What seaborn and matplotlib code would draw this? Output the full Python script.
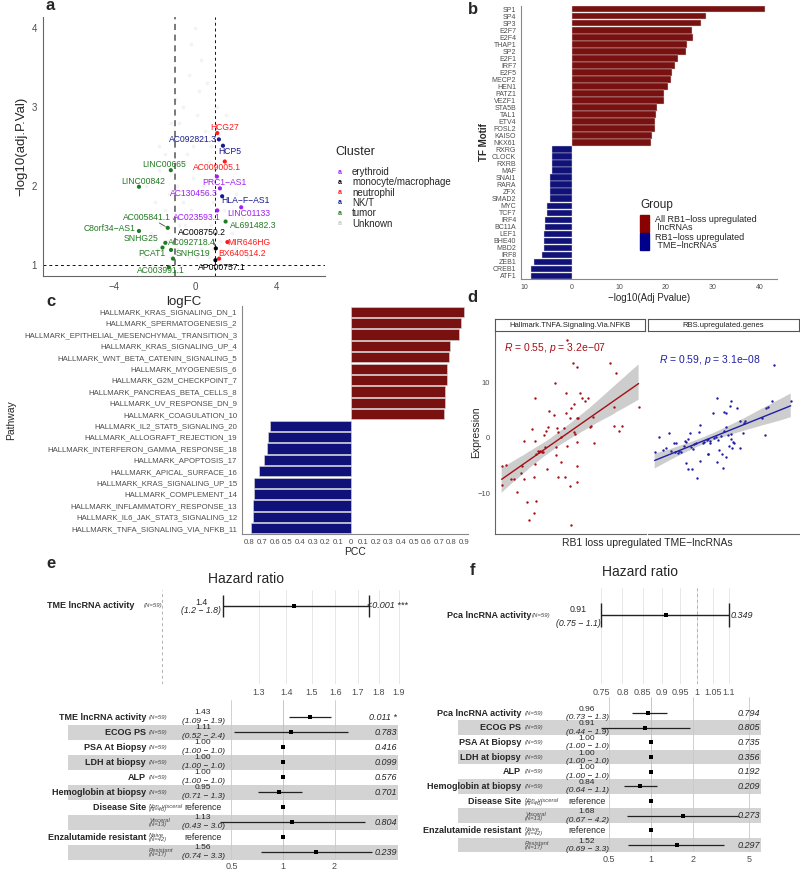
import numpy as np
import pandas as pd
import matplotlib
matplotlib.use("Agg")
import matplotlib.pyplot as plt
import matplotlib.transforms as mtrans
from matplotlib.patches import Rectangle
from matplotlib.ticker import NullLocator
import seaborn as sns

sns.set_theme(style="white")
plt.rcParams["font.family"] = ["Liberation Sans", "DejaVu Sans"]
plt.rcParams["axes.unicode_minus"] = True
plt.rcParams["mathtext.fontset"] = "custom"
plt.rcParams["mathtext.it"] = "Liberation Sans:italic"
plt.rcParams["mathtext.rm"] = "Liberation Sans"

#%% data

# a: volcano, labelled lncRNAs
genes = ["HCG27", "AC092821.3", "HCP5", "AC009005.1", "LINC00665", "PRC1\u2212AS1",
         "LINC00842", "AC130456.3", "HLA\u2212F\u2212AS1", "LINC01133", "AC023593.1",
         "AL691482.3", "AC005841.1", "C8orf34\u2212AS1", "SNHG25", "AC092718.4", "PCAT1",
         "SNHG19", "AC008750.2", "MIR646HG", "BX640514.2", "AP000757.1", "AC003991.1"]
gene_fc = [1.09, 1.17, 1.37, 1.46, -1.20, 1.07, -2.77, 1.22, 1.33, 2.27, 1.09, 1.50,
           -1.35, -2.77, -1.47, -1.19, -1.61, -1.09, 1.02, 1.59, 1.18, 1.00, -1.30]
gene_p = [2.67, 2.59, 2.51, 2.31, 2.20, 2.12, 1.99, 1.97, 1.87, 1.73, 1.69, 1.55,
          1.47, 1.43, 1.28, 1.19, 1.22, 1.08, 1.21, 1.29, 1.08, 1.06, 0.97]
gene_cluster = ["neutrophil", "NK/T", "NK/T", "neutrophil", "tumor", "erythroid",
                "tumor", "erythroid", "NK/T", "erythroid", "erythroid", "tumor",
                "tumor", "tumor", "tumor", "tumor", "tumor", "tumor",
                "monocyte/macrophage", "neutrophil", "neutrophil", "monocyte/macrophage", "tumor"]
# ggrepel label placement (data units)
label_x = [1.45, -0.13, 1.71, 1.09, -1.55, 1.42, -2.57, -0.07, 2.50, 2.62, 0.08, 2.86,
           -2.39, -4.20, -2.68, -0.18, -2.12, -0.13, 0.33, 2.67, 2.32, 1.30, -1.70]
label_y = [2.74, 2.59, 2.44, 2.24, 2.27, 2.04, 2.06, 1.91, 1.81, 1.65, 1.60, 1.50,
           1.60, 1.46, 1.33, 1.28, 1.14, 1.14, 1.41, 1.28, 1.15, 0.97, 0.93]

# a: unlabelled background lncRNAs (Unknown)
bg_points = [(-3.1, 1.3), (-2.8, 1.6), (-2.5, 1.1), (-2.4, 2.0), (-2.2, 1.4), (-2.1, 1.0),
             (-2.0, 1.8), (-1.9, 1.2), (-1.8, 2.2), (-1.7, 1.5), (-1.6, 1.0), (-1.5, 1.7),
             (-1.5, 2.4), (-1.4, 1.3), (-1.3, 1.9), (-1.2, 1.1), (-1.1, 1.6), (-1.0, 2.6),
             (-0.9, 1.2), (-0.9, 2.0), (-0.8, 1.5), (-0.7, 1.0), (-0.6, 1.8), (-0.5, 2.3),
             (-0.4, 1.4), (-0.3, 1.1), (-0.2, 1.7), (-0.1, 2.1), (0.0, 1.3), (0.1, 2.9),
             (0.2, 1.6), (0.3, 1.2), (0.4, 2.0), (0.5, 1.4), (0.6, 1.9), (0.7, 1.1),
             (0.8, 1.5), (0.9, 1.8), (1.0, 2.2), (1.2, 1.3), (1.4, 1.7), (1.6, 1.0),
             (1.8, 1.4), (2.0, 1.2), (2.3, 1.6), (2.6, 1.1), (3.0, 1.3), (-0.6, 3.0),
             (-0.3, 3.4), (0.2, 3.2), (0.5, 2.7), (-1.0, 3.1), (0.8, 2.5), (-0.2, 3.8),
             (0.3, 3.6), (-0.8, 2.8), (0.0, 4.0), (0.6, 3.3), (-1.8, 2.5), (-1.2, 2.8),
             (1.1, 3.0), (1.5, 2.9), (-0.4, 2.4), (0.4, 2.6), (-2.2, 2.1), (2.0, 1.9),
             (-0.5, 1.5), (0.1, 1.1), (-1.3, 1.0), (0.9, 1.2), (-0.1, 2.5), (0.7, 2.3)]

cluster_names = ["erythroid", "monocyte/macrophage", "neutrophil", "NK/T", "tumor", "Unknown"]
cluster_colors = ["#A020F0", "#000000", "#FF1A1A", "#1A1A8C", "#227A22", "#C8C8C8"]

# b: TF motif enrichment
tf_up = ["SP1", "SP4", "SP3", "E2F7", "E2F4", "THAP1", "SP2", "E2F1", "IRF7", "E2F5",
         "MECP2", "HEN1", "PATZ1", "VEZF1", "STA5B", "TAL1", "ETV4", "FOSL2", "KAISO", "NKX61"]
tf_up_val = [41.0, 28.6, 27.4, 25.6, 25.7, 24.4, 24.2, 22.5, 22.0, 21.3,
             21.1, 20.4, 19.6, 19.6, 18.1, 17.9, 17.7, 17.6, 17.1, 16.9]
tf_down = ["RXRG", "CLOCK", "RXRB", "MAF", "SNAI1", "RARA", "ZFX", "SMAD2", "MYC", "TCF7",
           "IRF4", "BC11A", "LEF1", "BHE40", "MBD2", "IRF8", "ZEB1", "CREB1", "ATF1"]
tf_down_val = [4.2, 4.3, 4.3, 4.3, 4.6, 4.6, 4.7, 4.7, 5.2, 5.3,
               5.7, 5.8, 6.0, 6.0, 6.0, 6.4, 8.0, 8.7, 8.7]
group_labels = ["All RB1\u2212loss upregulated\n lncRNAs", "RB1\u2212loss upregulated\n TME\u2212lncRNAs"]

# c: hallmark pathways
path_up = ["HALLMARK_KRAS_SIGNALING_DN_1", "HALLMARK_SPERMATOGENESIS_2",
           "HALLMARK_EPITHELIAL_MESENCHYMAL_TRANSITION_3", "HALLMARK_KRAS_SIGNALING_UP_4",
           "HALLMARK_WNT_BETA_CATENIN_SIGNALING_5", "HALLMARK_MYOGENESIS_6",
           "HALLMARK_G2M_CHECKPOINT_7", "HALLMARK_PANCREAS_BETA_CELLS_8",
           "HALLMARK_UV_RESPONSE_DN_9", "HALLMARK_COAGULATION_10"]
path_up_pcc = [0.895, 0.871, 0.860, 0.786, 0.781, 0.762, 0.760, 0.746, 0.746, 0.738]
path_down = ["HALLMARK_IL2_STAT5_SIGNALING_20", "HALLMARK_ALLOGRAFT_REJECTION_19",
             "HALLMARK_INTERFERON_GAMMA_RESPONSE_18", "HALLMARK_APOPTOSIS_17",
             "HALLMARK_APICAL_SURFACE_16", "HALLMARK_KRAS_SIGNALING_UP_15",
             "HALLMARK_COMPLEMENT_14", "HALLMARK_INFLAMMATORY_RESPONSE_13",
             "HALLMARK_IL6_JAK_STAT3_SIGNALING_12", "HALLMARK_TNFA_SIGNALING_VIA_NFKB_11"]
path_down_pcc = [0.635, 0.651, 0.662, 0.688, 0.728, 0.765, 0.768, 0.776, 0.776, 0.786]

# d: correlation scatter (x = RB1 loss TME-lncRNA score, y = expression)
tnfa_pts = [(0.46, -5.1), (0.71, -4.9), (1.04, -7.4), (1.24, -7.4), (1.44, -9.7), (0.44, -8.4),
            (1.73, -6.3), (1.81, -5.0), (1.90, -0.5), (1.95, -7.4), (2.12, -11.6), (2.26, -14.7),
            (2.46, 1.6), (2.57, -13.5), (2.57, -7.1), (2.63, -0.5), (2.68, 7.1), (2.68, -4.7),
            (2.70, -2.9), (2.72, -11.3), (2.85, -2.3), (2.90, -2.6), (2.99, -2.3), (3.08, -2.5),
            (3.19, -2.5), (3.23, 0.5), (3.30, -1.7), (3.41, 1.3), (3.45, -5.6), (3.54, 2.0),
            (3.56, 4.9), (3.89, 4.1), (4.00, 9.9), (4.05, -3.1), (4.07, -1.7), (4.09, 1.7),
            (4.14, -7.1), (4.18, 1.1), (4.34, -4.3), (4.40, 0.2), (4.60, 1.8), (4.62, -7.0),
            (4.69, 8.1), (4.71, 4.4), (4.76, 17.6), (4.80, -1.4), (4.96, 3.6), (4.98, -8.7),
            (5.00, -15.7), (5.04, 5.4), (5.18, 13.5), (5.22, 6.0), (5.24, 1.1), (5.33, 0.7),
            (5.44, 12.8), (5.44, -0.8), (5.46, 3.6), (5.46, -5.0), (5.46, -8.0), (5.51, 3.6),
            (5.66, 8.1), (5.77, 7.2), (5.95, 6.6), (6.13, 7.1), (6.28, 2.0), (6.33, 2.2),
            (6.48, 3.7), (6.57, -1.0), (7.61, 13.4), (7.88, 5.6), (7.88, 2.2), (7.99, 11.7),
            (8.21, 1.2), (8.43, 2.2), (9.51, 5.5)]
rbs_pts = [(0.44, -2.5), (0.72, 0.1), (0.96, -2.2), (1.18, -1.8), (1.40, 0.8), (1.49, -2.4),
           (1.68, -1.0), (1.79, -2.5), (1.86, -1.0), (1.95, -2.8), (2.06, -2.3), (2.14, -2.5),
           (2.34, -1.4), (2.45, -0.5), (2.47, -4.5), (2.52, -0.7), (2.60, -5.6), (2.65, -0.3),
           (2.76, 0.8), (2.80, -1.7), (2.89, -5.6), (2.98, -2.0), (3.04, -1.2), (3.13, -0.9),
           (3.24, -7.2), (3.33, 1.1), (3.39, -4.2), (3.44, 2.3), (3.61, -1.0), (3.70, -0.7),
           (3.85, -0.4), (3.94, -2.9), (3.96, -3.0), (3.98, -0.3), (4.05, -0.5), (4.09, -1.0),
           (4.25, 4.4), (4.31, -0.1), (4.49, 0.1), (4.53, -4.3), (4.57, 7.1), (4.62, -0.4),
           (4.70, -2.2), (4.79, 0.4), (4.86, -3.0), (4.92, -5.5), (4.97, 1.3), (5.01, 4.6),
           (5.10, -3.4), (5.12, 4.5), (5.16, 2.0), (5.27, 0.5), (5.34, -1.4), (5.38, 5.8),
           (5.43, 6.6), (5.43, -0.2), (5.45, 0.7), (5.51, -1.9), (5.58, -0.7), (5.69, -1.0),
           (5.86, 5.4), (6.06, -1.9), (6.08, 3.1), (6.24, 0.9), (6.32, 2.6), (6.41, 3.1),
           (7.51, 3.6), (7.72, 0.5), (7.79, 5.4), (7.88, 5.5), (8.14, 6.6), (8.29, 13.1),
           (9.39, 6.6)]
facet_names = ["Hallmark.TNFA.Signaling.Via.NFKB", "RBS.upregulated.genes"]
facet_stats = ["$R$ = 0.55, $p$ = 3.2e\u221207", "$R$ = 0.59, $p$ = 3.1e\u221208"]

# e/f: cox models
cox_vars = ["", "ECOG PS", "PSA At Biopsy", "LDH at biopsy", "ALP", "Hemoglobin at biopsy",
            "Disease Site", "", "Enzalutamide resistant", ""]
cox_levels = ["(N=59)", "(N=59)", "(N=59)", "(N=59)", "(N=59)", "(N=59)",
              "Non_visceral\n(N=46)", "Visceral\n(N=13)", "Naive\n(N=42)", "Resistant\n(N=17)"]
e_hr = [1.43, 1.11, 1.00, 1.00, 1.00, 0.95, 1.00, 1.13, 1.00, 1.56]
e_lo = [1.09, 0.52, 1.00, 1.00, 1.00, 0.71, np.nan, 0.43, np.nan, 0.74]
e_hi = [1.9, 2.4, 1.0, 1.0, 1.0, 1.3, np.nan, 3.0, np.nan, 3.3]
e_p = ["0.011 *", "0.783", "0.416", "0.099", "0.576", "0.701", "", "0.804", "", "0.239"]
f_hr = [0.96, 0.91, 1.00, 1.00, 1.00, 0.84, 1.00, 1.68, 1.00, 1.52]
f_lo = [0.73, 0.44, 1.00, 1.00, 1.00, 0.64, np.nan, 0.67, np.nan, 0.69]
f_hi = [1.3, 1.9, 1.0, 1.0, 1.0, 1.1, np.nan, 4.2, np.nan, 3.3]
f_p = ["0.794", "0.805", "0.735", "0.356", "0.192", "0.209", "", "0.273", "", "0.297"]

# single-variable models
e1_hr, e1_lo, e1_hi, e1_txt, e1_p = 1.43, 1.18, 1.75, ("1.4", "(1.2 \u2212 1.8)"), "<0.001 ***"
f1_hr, f1_lo, f1_hi, f1_txt, f1_p = 0.91, 0.75, 1.10, ("0.91", "(0.75 \u2212 1.1)"), "0.349"

RED = "#8B0000"
BLUE = "#00008B"
GREY_TXT = "#4d4d4d"

#%% figure helpers
W, H = 800, 871
fig = plt.figure(figsize=(8, 8.71), dpi=100)


def px_axes(l, t, r, b):
    return fig.add_axes([l / W, 1 - b / H, (r - l) / W, (b - t) / H])


def ftext(x, y, s, **kw):
    fig.text(x / W, 1 - y / H, s, **kw)


def style_spines(ax, sides=("left", "bottom"), color="#666666"):
    for k, sp in ax.spines.items():
        sp.set_visible(k in sides)
        sp.set_color(color)
        sp.set_linewidth(0.8)


#%% a: volcano
ax = px_axes(43, 17, 325, 276)
bg_fc, bg_p = zip(*bg_points)
sns.scatterplot(x=list(bg_fc), y=list(bg_p), color="#d0d0d0", s=7, alpha=0.25,
                linewidth=0, ax=ax)
dfa = pd.DataFrame({"logFC": gene_fc, "p": gene_p, "cluster": gene_cluster})
pal = dict(zip(cluster_names, cluster_colors))
sns.scatterplot(data=dfa, x="logFC", y="p", hue="cluster", palette=pal, s=9,
                linewidth=0, legend=False, ax=ax, zorder=3)
for g, lx, ly, cl in zip(genes, label_x, label_y, gene_cluster):
    ax.text(lx, ly, g, color=pal[cl], fontsize=6.2, ha="center", va="center", zorder=4)
for g in ["AC005841.1", "AC008750.2"]:
    i = genes.index(g)
    ax.annotate("", xy=(gene_fc[i], gene_p[i]), xytext=(label_x[i] + 0.5, label_y[i] - 0.05),
                arrowprops=dict(arrowstyle="-", color="#333333", lw=0.5))
ax.axvline(-1, ls=(0, (4, 3)), color="#555555", lw=1.1, zorder=2)
ax.axvline(1, ls=(0, (3, 3)), color="#111111", lw=0.7, zorder=2)
ax.axhline(1, ls=(0, (3, 3)), color="#111111", lw=0.7, zorder=2)
ax.set_xlim(-7.5, 6.4)
ax.set_ylim(0.86, 4.14)
ax.set_xticks([-4, 0, 4])
ax.set_yticks([1, 2, 3, 4])
ax.set_xlabel("logFC", fontsize=9.5, labelpad=3)
ax.set_ylabel("\u2212log10(adj.P.Val)", fontsize=9.5, labelpad=3)
ax.tick_params(length=2.5, width=0.6, colors=GREY_TXT, labelsize=7, pad=2)
style_spines(ax)

ftext(335, 152, "Cluster", fontsize=9, va="center")
for k, (nm, col) in enumerate(zip(cluster_names, cluster_colors)):
    yy = 172 + k * 10.3
    ftext(340, yy, "a", color=col, fontsize=5, ha="center", va="center", fontweight="bold")
    ftext(352, yy, nm, fontsize=7, va="center")

#%% b: TF motifs
ax = px_axes(521, 5.8, 777, 279.3)
dfb = pd.DataFrame({"motif": tf_up + tf_down,
                    "score": tf_up_val + [-v for v in tf_down_val],
                    "group": [group_labels[0]] * len(tf_up) + [group_labels[1]] * len(tf_down)})
sns.barplot(data=dfb, x="score", y="motif", hue="group", palette=[RED, BLUE],
            dodge=False, width=0.9, orient="h", errorbar=None, legend=False,
            edgecolor="#d8d8d8", linewidth=0.3, ax=ax)
ax.set_xlim(-10.8, 43.6)
ax.set_ylim(len(dfb) - 0.5, -0.5)
ax.set_xticks([-10, 0, 10, 20, 30, 40])
ax.set_xticklabels(["10", "0", "10", "20", "30", "40"])
ax.set_xlabel("\u2212log10(Adj Pvalue)", fontsize=7, labelpad=1)
ax.set_ylabel("TF Motif", fontsize=7, fontweight="bold", labelpad=2)
ax.tick_params(length=2, width=0.5, colors=GREY_TXT, labelsize=5, pad=1.5)
style_spines(ax, color="#888888")

ftext(640, 205, "Group", fontsize=8.5, va="center")
for k, (lab, col) in enumerate(zip(group_labels, [RED, BLUE])):
    y0 = 215 + k * 18
    fig.patches.append(Rectangle((640 / W, 1 - (y0 + 17) / H), 9 / W, 17 / H,
                                 transform=fig.transFigure, color=col))
    ftext(655, y0 + 8.5, lab, fontsize=6.5, va="center", linespacing=0.95)

#%% c: hallmark pathways
ax = px_axes(242, 306, 468, 534)
dfc = pd.DataFrame({"pathway": path_up + path_down,
                    "pcc": path_up_pcc + [-v for v in path_down_pcc],
                    "dir": ["pos"] * len(path_up) + ["neg"] * len(path_down)})
sns.barplot(data=dfc, x="pcc", y="pathway", hue="dir", palette=[RED, BLUE],
            dodge=False, width=0.9, orient="h", errorbar=None, legend=False,
            edgecolor="#d8d8d8", linewidth=0.4, ax=ax)
ax.set_xlim(-0.86, 0.93)
ax.set_ylim(len(dfc) - 0.5, -0.5)
cticks = np.round(np.arange(-0.8, 0.95, 0.1), 1)
ax.set_xticks(cticks)
ax.set_xticklabels([f"{abs(v):g}" for v in cticks])
ax.set_xlabel("PCC", fontsize=7.5, labelpad=1)
ax.set_ylabel("Pathway", fontsize=7.5, labelpad=4)
ax.yaxis.set_label_coords(-1.0, 0.5)
ax.tick_params(axis="y", length=2, width=0.5, colors=GREY_TXT, labelsize=5.6, pad=1.5)
ax.tick_params(axis="x", length=2, width=0.5, colors=GREY_TXT, labelsize=5.6, pad=1.5)
style_spines(ax, color="#888888")

#%% d: correlations
panels = [(495, 646, tnfa_pts, "#A50F15"), (648, 800, rbs_pts, "#1F1FA6")]
for k, (l, r, pts, col) in enumerate(panels):
    sx, sy = zip(*pts)
    sx, sy = np.array(sx), np.array(sy)
    ax = px_axes(l, 331, r, 534)
    sns.regplot(x=sx, y=sy, scatter=False, color="#9a9a9a", ci=95, truncate=True,
                line_kws=dict(lw=0), ax=ax)
    band = ax.collections[-1]
    band.set_facecolor("#bdbdbd")
    band.set_alpha(0.75)
    band.set_edgecolor("none")
    sns.regplot(x=sx, y=sy, ci=None, color=col, truncate=True,
                scatter_kws=dict(s=3, linewidths=0, alpha=1), line_kws=dict(lw=1), ax=ax)
    ax.set_xlim(0, 10)
    ax.set_ylim(-17.3, 19.2)
    ax.set_xticks([1.6, 7.4])
    ax.set_xticklabels([])
    ax.set_yticks([-10, 0, 10])
    ax.tick_params(length=2, width=0.5, colors=GREY_TXT, labelsize=5.5, pad=1.5)
    if k == 0:
        style_spines(ax, color="#666666")
        ax.text(0.06, 0.9, facet_stats[k], transform=ax.transAxes, color=col, fontsize=7.5)
    else:
        style_spines(ax, sides=("bottom",), color="#666666")
        ax.set_yticks([])
        ax.text(0.07, 0.84, facet_stats[k], transform=ax.transAxes, color=col, fontsize=7.5)
    sax = px_axes(l, 319, r - 1, 331)
    sax.set_xticks([])
    sax.set_yticks([])
    for sp in sax.spines.values():
        sp.set_color("#555555")
        sp.set_linewidth(0.8)
    sax.text(0.5, 0.45, facet_names[k], ha="center", va="center", fontsize=5.5,
             color="#222222", transform=sax.transAxes)
ftext(476, 432, "Expression", fontsize=7.5, rotation=90, ha="center", va="center")
ftext(647, 543, "RB1 loss upregulated TME\u2212lncRNAs", fontsize=7.5, ha="center", va="center")

#%% e / f: forest plots


def single_forest(l, t, r, b, top_frac, hr, lo, hi, txt, pval, name, ticks, xlim,
                  x_name, x_n, x_est, x_p, cap):
    ax = px_axes(l, t, r, b)
    ax.set_xscale("log")
    ax.set_xlim(*xlim)
    ax.set_ylim(-(1 - top_frac) / top_frac, 1)
    ax.xaxis.set_minor_locator(NullLocator())
    for tk in ticks:
        ax.axvline(tk, color="#e3e3e3", lw=0.6, zorder=0)
    ax.axvline(1, color="#b0b0b0", lw=0.7, ls=(0, (3, 3)), zorder=1)
    ax.hlines(0, lo, hi, color="#222222", lw=1.0)
    ax.vlines([lo, hi], -cap, cap, color="#222222", lw=1.0)
    sns.scatterplot(x=[hr], y=[0], marker="s", s=6, color="black", linewidth=0, ax=ax, zorder=4)
    ax.set_xticks(ticks)
    ax.set_xticklabels([f"{t:g}" for t in ticks])
    ax.set_yticks([])
    ax.tick_params(axis="x", length=0, colors=GREY_TXT, labelsize=6.5, pad=3)
    for sp in ax.spines.values():
        sp.set_visible(False)
    bt = mtrans.blended_transform_factory(ax.transAxes, ax.transData)
    fx = lambda p: (p - l) / (r - l)
    ax.text(fx(x_name), 0, name, transform=bt, ha="right", va="center", fontsize=6.5,
            fontweight="bold")
    ax.text(fx(x_n), 0, "(N=59)", transform=bt, ha="left", va="center", fontsize=4.3,
            style="italic", color="#444444")
    ax.text(fx(x_est), 0.22, txt[0], transform=bt, ha="center", va="center", fontsize=6.3)
    ax.text(fx(x_est), -0.28, txt[1], transform=bt, ha="center", va="center", fontsize=6.3,
            style="italic")
    ax.text(fx(x_p), 0, pval, transform=bt, ha="left", va="center", fontsize=6.5,
            style="italic")
    return ax


def table_forest(l, t, r, b, first_row_px, hr, lo, hi, pvals, first_name, ticks,
                 x_name, x_n, x_est, x_p):
    ax = px_axes(l, t, r, b)
    row_h = (b - first_row_px) / 9.5
    ax.set_xscale("log")
    ax.set_ylim(9.5, 9.5 - (b - t) / row_h)
    ax.xaxis.set_minor_locator(NullLocator())
    for i in range(1, 10, 2):
        ax.axhspan(i - 0.5, i + 0.5, color="#d3d3d3", lw=0, zorder=0)
    for tk in ticks:
        ax.axvline(tk, color="#c9c9c9" if tk != 1 else "#bdbdbd", lw=0.6, zorder=1)
    rows = np.arange(10)
    ok = ~np.isnan(lo)
    ax.hlines(rows[ok], np.array(lo)[ok], np.array(hi)[ok], color="#222222", lw=0.9, zorder=3)
    sns.scatterplot(x=hr, y=rows, marker="s", s=6, color="black", linewidth=0, ax=ax, zorder=4)
    ax.set_xticks(ticks)
    ax.set_xticklabels([f"{t:g}" for t in ticks])
    ax.set_yticks([])
    ax.tick_params(axis="x", length=0, colors=GREY_TXT, labelsize=6.5, pad=2)
    for sp in ax.spines.values():
        sp.set_visible(False)
    bt = mtrans.blended_transform_factory(ax.transAxes, ax.transData)
    fx = lambda p: (p - l) / (r - l)
    names = [first_name] + cox_vars[1:]
    for i in range(10):
        if names[i]:
            ax.text(fx(x_name), i, names[i], transform=bt, ha="right", va="center",
                    fontsize=6.5, fontweight="bold")
        two = "\n" in cox_levels[i]
        ax.text(fx(x_n), i + (0.05 if two else 0), cox_levels[i], transform=bt, ha="left",
                va="center", fontsize=4.3 if not two else 4.2, style="italic",
                color="#444444", linespacing=0.8)
        if np.isnan(lo[i]):
            ax.text(fx(x_est), i, "reference", transform=bt, ha="center", va="center",
                    fontsize=6.3)
        else:
            ax.text(fx(x_est), i - 0.27, f"{hr[i]:.2f}", transform=bt, ha="center",
                    va="center", fontsize=6.0)
            ax.text(fx(x_est), i + 0.3, f"({lo[i]:.2f} \u2212 {hi[i]:.1f})", transform=bt,
                    ha="center", va="center", fontsize=6.0, style="italic")
        if pvals[i]:
            ax.text(fx(x_p), i, pvals[i], transform=bt, ha="right", va="center",
                    fontsize=6.5, style="italic")
    return ax


# e
ftext(246, 579, "Hazard ratio", fontsize=10, ha="center", va="center")
ax = single_forest(160, 590, 402, 684, 0.17, e1_hr, e1_lo, e1_hi, e1_txt, e1_p,
                   "TME lncRNA activity", [1.3, 1.4, 1.5, 1.6, 1.7, 1.8, 1.9],
                   (0.995, 1.916), 134, 144, 201, 367, 0.66)
ax = table_forest(68, 700, 398, 859.5, 717, e_hr, e_lo, e_hi, e_p,
                  "TME lncRNA activity", [0.5, 1, 2], 146, 149, 203, 397)
ax.set_xlim(0.0554, 4.70)

# f
ftext(640, 572, "Hazard ratio", fontsize=10, ha="center", va="center")
ax = single_forest(590, 588, 760, 684, 0.285, f1_hr, f1_lo, f1_hi, f1_txt, f1_p,
                   "Pca lncRNA activity", [0.75, 0.8, 0.85, 0.9, 0.95, 1, 1.05, 1.1],
                   (0.726, 1.207), 531, 532, 578, 731, 0.44)
ax = table_forest(458, 697, 761, 852.4, 713, f_hr, f_lo, f_hi, f_p,
                  "Pca lncRNA activity", [0.5, 1, 2, 5], 521, 525, 587, 760)
ax.set_xlim(0.0423, 6.07)

#%% panel letters
for lab, x, y in [("a", 50, 6), ("b", 473, 10), ("c", 51, 301), ("d", 472, 297),
                  ("e", 51, 563), ("f", 472, 570)]:
    ftext(x, y, lab, fontsize=12, fontweight="bold", ha="center", va="center")

fig.savefig("out.png", dpi=100)
